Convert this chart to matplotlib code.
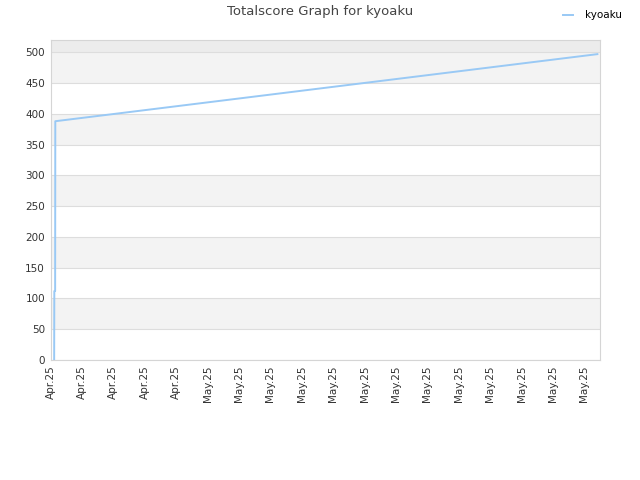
import pandas as pd
import matplotlib
matplotlib.use("Agg")
import matplotlib.pyplot as plt
import matplotlib.dates as mdates

# totalscore history for kyoaku
timestamps = [
    "2025-04-22 05:30", "2025-04-22 05:45", "2025-04-22 07:00",
    "2025-04-22 07:15", "2025-05-26 20:00",
]
scores = [0, 112, 112, 388, 497]

tick_start = "2025-04-22"
tick_end = "2025-05-26"
x_end = "2025-05-27"

df = pd.DataFrame({"date": pd.to_datetime(timestamps), "score": scores})

fig = plt.figure(figsize=(6.4, 4.8), dpi=100)
ax = fig.add_axes([0.079, 0.25, 0.8585, 0.6667])

# alternating bands behind the grid
for lo in range(50, 500, 100):
    ax.axhspan(lo, lo + 50, color="#f3f3f3", zorder=0, lw=0)
ax.axhspan(500, 520, color="#ececec", zorder=0, lw=0)

ax.plot(df["date"], df["score"], color="#99c9f5", lw=1.4, label="kyoaku", zorder=3)

ax.set_ylim(0, 520)
ax.set_yticks(range(0, 501, 50))
ax.set_xlim(pd.Timestamp(tick_start), pd.Timestamp(x_end))
ax.set_xticks(pd.date_range(tick_start, tick_end, freq="2D"))
ax.xaxis.set_major_formatter(mdates.DateFormatter("%b.%y"))
ax.grid(axis="y", color="#dddddd", lw=0.8, zorder=1)
ax.set_axisbelow(True)

for s in ax.spines.values():
    s.set_color("#d5d5d5")
ax.tick_params(length=0, labelsize=7.5, labelcolor="#333333", pad=4)
plt.setp(ax.get_xticklabels(), rotation=90)

fig.text(0.5, 0.975, "Totalscore Graph for kyoaku", ha="center", va="center",
         fontsize=9.5, color="#444444")
fig.legend(loc="upper right", bbox_to_anchor=(0.984, 0.994), frameon=False,
           fontsize=7.5, handlelength=1.0, handletextpad=1.2, borderaxespad=0.3)

fig.savefig("out.png", dpi=100)
